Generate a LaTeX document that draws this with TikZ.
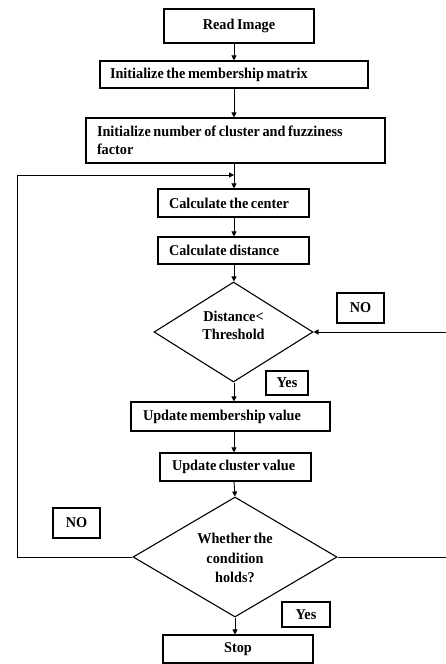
\documentclass[tikz,border=0pt]{standalone}
\usepackage{fontspec}
\setmainfont{Liberation Serif}[FakeStretch=0.95]
\usetikzlibrary{arrows.meta,shapes.geometric}
\newcommand{\tightsp}{\fontdimen2\font=2.6pt\fontdimen3\font=0.8pt\fontdimen4\font=0.6pt\relax}
\begin{document}
\begin{tikzpicture}[x=1pt,y=-1pt,
  every node/.style={font=\fontsize{15}{18}\selectfont\bfseries\tightsp},
  box/.style={draw,line width=1.1pt,rectangle,inner ysep=0pt,minimum height=#1},
  lbox/.style={box=#1,align=flush left},
  tag/.style={draw,line width=1.1pt,rectangle,inner sep=0pt,align=center},
  dec/.style={draw,line width=1.1pt,diamond,inner sep=0pt,align=center},
  arr/.style={line width=0.9pt,-{Triangle[length=5pt,width=5pt]}},
  ln/.style={line width=0.9pt}]
\useasboundingbox (0,0) rectangle (446,664);
% main column axis
\coordinate (ax) at (234,0);
% nodes
\node[box=34pt,minimum width=150pt] (read) at (239,26) {Read Image};
\node[lbox=27pt,text width=248pt,inner xsep=10pt] (init1) at (234,74.5) {Initialize the membership matrix};
\node[lbox=45pt,text width=277pt,inner xsep=11pt] (init2) at (235.5,140.5) {Initialize number of cluster and fuzziness\\factor};
\node[lbox=28pt,text width=129pt,inner xsep=11pt] (cent) at (233.5,203) {\mbox{Calculate the center}};
\node[lbox=27pt,text width=129pt,inner xsep=11pt] (dist) at (233.5,250.5) {\mbox{Calculate distance}};
\node[dec,minimum width=159pt,minimum height=100pt] (d1) at (233.5,332) {\raisebox{1.5pt}[0pt][0pt]{\begin{tabular}{@{}c@{}}Distance<\\Threshold\end{tabular}}};
\node[tag,minimum width=47pt,minimum height=30pt] (no1) at (360.5,308) {NO};
\node[tag,minimum width=42pt,minimum height=24pt] (yes1) at (287,383) {Yes};
\node[lbox=29pt,text width=175pt,inner xsep=12pt] (upm) at (230.5,416.5) {\mbox{Update membership value}};
\node[lbox=28pt,text width=127pt,inner xsep=12pt] (upc) at (235.5,467) {\mbox{Update cluster value}};
\node[dec,minimum width=204pt,minimum height=120pt] (d2) at (235,557) {\raisebox{-6pt}[0pt][0pt]{\begin{tabular}{@{}c@{}}Whether the\\[1.5pt]condition\\[1.5pt]holds?\end{tabular}}};
\node[tag,minimum width=47pt,minimum height=30pt] (no2) at (76.5,523) {NO};
\node[tag,minimum width=48pt,minimum height=25pt] (yes2) at (306,614.5) {Yes};
\node[box=28pt,minimum width=150pt] (stop) at (238,649) {Stop};
% free ends
\coordinate (rt1) at (446,332);
\coordinate (rt2) at (446,557);
\coordinate (lpA) at (17,557);
\coordinate (lpB) at (17,175);
\coordinate (lpC) at (234,175);
% connectors
\draw[arr] (read.south -| ax) -- (init1.north -| ax);
\draw[arr] (init1.south -| ax) -- (init2.north -| ax);
\draw[arr] (init2.south -| ax) -- (cent.north -| ax);
\draw[arr] (cent.south -| ax) -- (dist.north -| ax);
\draw[arr] (dist.south -| ax) -- (d1.north -| ax);
\draw[arr] (d1.south -| ax) -- (upm.north -| ax);
\draw[arr] (upm.south -| ax) -- (upc.north -| ax);
\draw[arr] (upc.south -| ax) -- (d2.north);
\draw[arr] (d2.south) -- (stop.north -| d2.south);
\draw[arr] (rt1) -- (d1.east);
\draw[ln] (d2.east) -- (rt2);
\draw[arr] (d2.west) -- (lpA) -- (lpB) -- (lpC);
\end{tikzpicture}
\end{document}
